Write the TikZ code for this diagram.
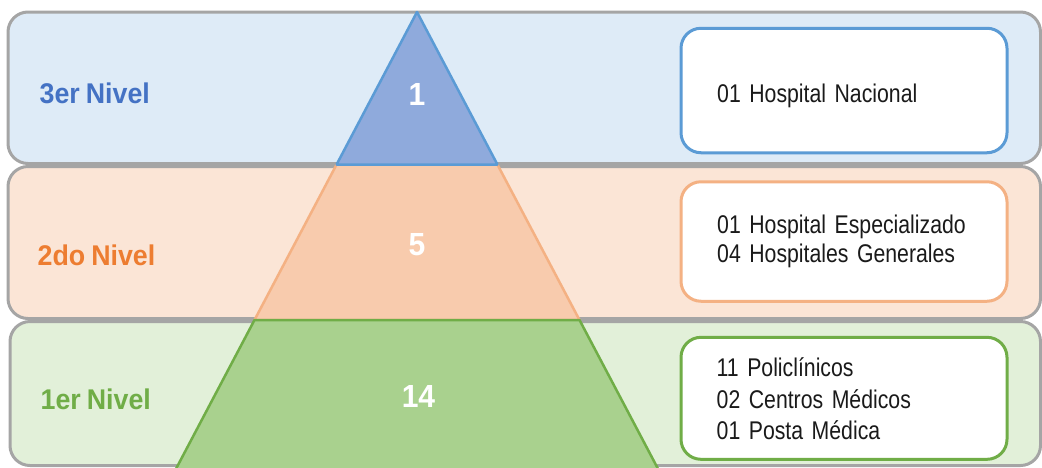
\documentclass[tikz,border=0pt]{standalone}
\usepackage{fontspec}
% condensed sans for the lists, slightly narrowed for the bold labels
\newfontfamily\listfont[FakeStretch=0.83]{Liberation Sans}
\newfontfamily\lvlfont[FakeStretch=0.94]{Liberation Sans}
% font switches with tighter word spacing
\newcommand\listtext[1]{\listfont\fontsize{25.6}{#1}\selectfont\spaceskip 4.6pt\relax}
\newcommand\lvltext{\lvlfont\bfseries\fontsize{28.5}{30}\selectfont\spaceskip 6pt\relax}

\definecolor{bandgray}{HTML}{A5A5A5}
\definecolor{bandblue}{HTML}{DEEBF7}
\definecolor{bandorange}{HTML}{FBE5D6}
\definecolor{bandgreen}{HTML}{E2F0D9}
\definecolor{lvlblue}{HTML}{4472C4}
\definecolor{lvlorange}{HTML}{ED7D31}
\definecolor{lvlgreen}{HTML}{70AD47}
\definecolor{tribluefill}{HTML}{8FAADC}
\definecolor{triblueedge}{HTML}{5B9BD5}
\definecolor{triorangefill}{HTML}{F8CBAD}
\definecolor{triorangeedge}{HTML}{F4B183}
\definecolor{trigreenfill}{HTML}{A9D18E}
\definecolor{trigreenedge}{HTML}{70AD47}
\definecolor{textblack}{HTML}{1A1A1A}

\begin{document}
\begin{tikzpicture}[x=1pt, y=-1pt,
  band/.style={draw=bandgray, line width=3pt, rounded corners=20pt},
  tier/.style={line width=2.5pt, line join=round},
  lvl/.style={font=\lvltext, anchor=west, inner sep=0pt},
  count/.style={font=\lvlfont\bfseries\fontsize{32}{32}\selectfont, text=white, inner sep=0pt},
  infobox/.style={draw, fill=white, line width=3pt, rounded corners=20pt,
    minimum width=326pt, inner sep=0pt},
  infotext/.style={anchor=base west, inner sep=0pt, text width=285pt, align=left,
    text=textblack}]

\useasboundingbox (0,0) rectangle (1042,467);
\clip (0,0) rectangle (1042,467);

% level bands
\path[band, fill=bandblue]   (8,12)    rectangle (1040.5,163.5);
\path[band, fill=bandorange] (8,166.5) rectangle (1040.5,318.5);
\path[band, fill=bandgreen]  (10,321.5) rectangle (1040.5,465.5);

% pyramid tiers
\path[tier, draw=triorangeedge, fill=triorangefill]
  (336.6,164.5) -- (497.4,164.5) -- (579.5,320) -- (254.5,320) -- cycle;
\path[tier, draw=triblueedge, fill=tribluefill]
  (417,12) -- (497.4,164.5) -- (336.6,164.5) -- cycle;
\path[tier, draw=trigreenedge, fill=trigreenfill]
  (254.5,320) -- (579.5,320) -- (663.9,480) -- (170.1,480) -- cycle;

% level names
\node[lvl, text=lvlblue]   (n3) at (39.5,93.3) {3er Nivel};
\node[lvl, text=lvlorange] (n2) at (37.5,255)  {2do Nivel};
\node[lvl, text=lvlgreen]  (n1) at (40.5,399)  {1er Nivel};

% counts per level
\node[count] (c3) at (417,94.5) {1};
\node[count] (c2) at (417,245)  {5};
\node[count] (c1) at (418.5,396) {14};

% facility boxes
\node[infobox, draw=triblueedge,   minimum height=124.5pt] (b3) at (844,90.5)  {};
\node[infobox, draw=triorangeedge, minimum height=119.5pt] (b2) at (844,241.5) {};
\node[infobox, draw=trigreenedge,  minimum height=122pt]   (b1) at (844,398.3) {};

% facility lists
\node[infotext, font=\listtext{29}] (t3) at (717,102.5) {01 Hospital Nacional};
\node[infotext, font=\listtext{29}] (t2) at (717,233.5)
  {01 Hospital Especializado\\04 Hospitales Generales};
\node[infotext, font=\listtext{31.5}] (t1) at (716.5,376.5)
  {11 Policlínicos\\02 Centros Médicos\\01 Posta Médica};

\end{tikzpicture}
\end{document}
